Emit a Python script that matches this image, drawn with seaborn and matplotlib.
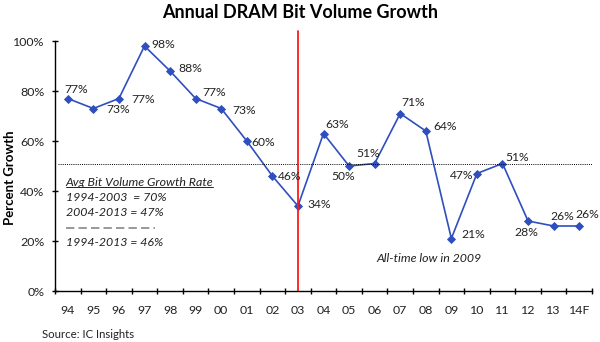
import matplotlib
matplotlib.use("Agg")
import matplotlib.pyplot as plt
import seaborn as sns
import pandas as pd
import numpy as np

years = ["94", "95", "96", "97", "98", "99", "00", "01", "02", "03", "04",
         "05", "06", "07", "08", "09", "10", "11", "12", "13", "14F"]
growth = [77, 73, 77, 98, 88, 77, 73, 60, 46, 34, 63, 50, 51, 71, 64, 21, 47, 51, 28, 26, 26]
avg_line = 51
split_year = "03"
y_ticks = [0, 20, 40, 60, 80, 100]
y_tick_labels = ["0%", "20%", "40%", "60%", "80%", "100%"]
note_lines = ["1994-2003  = 70%", "2004-2013 = 47%"]
note_total = "1994-2013 = 46%"

# label offsets in pixels (dx, dy) relative to each point
offsets = [(-3, 9), (13, -1), (12, -1), (7, 1), (8, 2), (7, 6), (11, -2), (5, -2),
           (6, -1), (10, 2), (2, 9), (-18, -10), (-18, 10), (1, 11), (8, 4), (10, 4),
           (-27, -2), (3, 6), (-14, -12), (-3, 9), (-4, 11)]

sns.set_style("ticks")
plt.rcParams["font.family"] = ["Lato", "DejaVu Sans"]

FS = 8.9
LFS = 8.7
TXT = "#222222"

df = pd.DataFrame({"pos": np.arange(len(years)), "year": years, "growth": growth})

fig = plt.figure(figsize=(6, 3.42), dpi=100)
ax = fig.add_axes([55 / 600, 1 - 291 / 342, 537 / 600, 250 / 342])

blue = "#2F4FBF"
sns.lineplot(data=df, x="pos", y="growth", ax=ax, color=blue, lw=1.2,
             marker="D", markersize=4, markeredgecolor=blue, markeredgewidth=0.6)

for i, (p, v) in enumerate(zip(df["pos"], df["growth"])):
    dx, dy = offsets[i]
    ax.annotate(f"{v}%", (p, v), xytext=(dx, dy), textcoords="offset pixels",
                ha="left", va="center", fontsize=LFS, color=TXT, annotation_clip=False)

ax.axhline(avg_line, color="black", lw=0.7, ls=(0, (1, 1.2)), xmin=0.006, xmax=1.0)
ax.axvline(years.index(split_year), ymin=0, ymax=1.04, color="#FF1A1A", lw=1.3, clip_on=False)

ax.set_xlim(-0.5, len(years) - 0.5)
ax.set_ylim(0, 100)
ax.set_xticks(df["pos"])
ax.set_xticklabels(years)
ax.set_xticks(np.arange(-0.5, len(years), 1.0), minor=True)
ax.set_yticks(y_ticks)
ax.set_yticklabels(y_tick_labels)
ax.tick_params(axis="x", which="major", length=0, pad=10, labelsize=FS, colors=TXT)
ax.tick_params(axis="x", which="minor", length=5, width=1, direction="inout", color="black")
ax.tick_params(axis="y", length=5, width=1, direction="inout", pad=5, labelsize=FS,
               labelcolor=TXT, color="black")
ax.set_xlabel("")
ax.set_ylabel("")
for s in ["top", "right"]:
    ax.spines[s].set_visible(False)
for s in ["left", "bottom"]:
    ax.spines[s].set_color("black")
    ax.spines[s].set_linewidth(1)

# notes
x0 = -0.08
head = ax.text(x0, 43.4, "Avg Bit Volume Growth Rate", style="italic", fontsize=FS,
               va="center", ha="left", color=TXT)
ax.text(x0, 37.4, note_lines[0], style="italic", fontsize=FS, va="center", ha="left", color=TXT)
ax.text(x0, 31.2, note_lines[1], style="italic", fontsize=FS, va="center", ha="left", color=TXT)
ax.plot([x0, 3.4], [25.2, 25.2], color="#888888", lw=1.2, ls=(0, (5, 2.5)))
ax.text(x0, 19.6, note_total, style="italic", fontsize=FS, va="center", ha="left", color=TXT)
ax.text(12.07, 12.8, "All-time low in 2009", style="italic", fontsize=FS,
        va="center", ha="left", color=TXT)

fig.text(0.5, 1 - 13 / 342, "Annual DRAM Bit Volume Growth", ha="center", va="center",
         fontsize=13, fontweight="bold", color="black")
fig.text(10 / 600, 1 - 178 / 342, "Percent Growth", rotation=90, ha="center", va="center",
         fontsize=9.5, fontweight="bold", color="black")
fig.text(42 / 600, 1 - 335 / 342, "Source: IC Insights", ha="left", va="center",
         fontsize=8.2, color=TXT)

# underline the heading of the note
fig.canvas.draw()
bb = head.get_window_extent().transformed(ax.transData.inverted())
ax.plot([bb.x0, bb.x1], [bb.y0 + 0.4, bb.y0 + 0.4], color=TXT, lw=0.7)

fig.savefig("out.png", dpi=100)
